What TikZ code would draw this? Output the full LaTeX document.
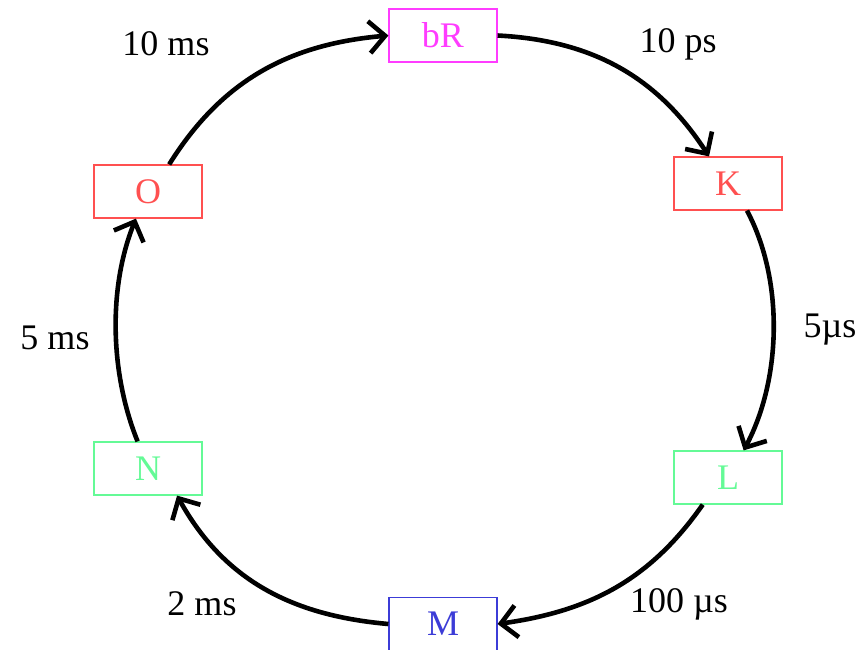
\documentclass[tikz,border=0pt]{standalone}
\usepackage{fontspec}
\setmainfont{Liberation Serif}
\usetikzlibrary{arrows.meta}
\definecolor{cmag}{RGB}{255,60,255}
\definecolor{cred}{RGB}{255,80,80}
\definecolor{cgreen}{RGB}{100,250,150}
\definecolor{cblue}{RGB}{60,60,215}
\tikzset{
  statebox/.style={draw=#1, text=#1, line width=0.6pt, minimum width=54pt, minimum height=26.5pt, inner sep=0pt, font=\fontsize{18}{20}\selectfont},
  flow/.style={line width=2.3pt, -{Straight Barb[length=8pt,width=16pt,line width=2.3pt]}},
  lbl/.style={font=\fontsize{18}{20}\selectfont, inner sep=0pt}
}
\begin{document}
\begin{tikzpicture}[x=0.5pt,y=-0.5pt]
\useasboundingbox (0,0) rectangle (862,649);
\node[statebox=cmag] (bR) at (443,35.5) {bR};
\node[statebox=cred] (K) at (728,183.5) {K};
\node[statebox=cgreen] (L) at (728,477.5) {L};
\node[statebox=cblue] (M) at (443,624) {M};
\node[statebox=cgreen] (N) at (148,468.5) {N};
\node[statebox=cred] (O) at (148,191.5) {O};

\draw[flow] (O.52) to[out=58,in=185] (bR.west);
\draw[flow] (bR.east) to[out=-3,in=123] (K.125);
\draw[flow] (K.-55) to[out=-62,in=62,looseness=0.85] (L.60);
\draw[flow] (L.-133) to[out=-125,in=8] (M.east);
\draw[flow] (M.west) to[out=175,in=-61] (N.-43);
\draw[flow] (N.111) to[out=112,in=-112,looseness=0.85] (O.-114);

\node[lbl] (t1) at (166,44) {10 ms};
\node[lbl] (t2) at (678,44) {10 ps};
\node[lbl] (t3) at (830,330) {5µs};
\node[lbl] (t4) at (679,604) {100 µs};
\node[lbl] (t5) at (202,604) {2 ms};
\node[lbl] (t6) at (55,338) {5 ms};
\end{tikzpicture}
\end{document}
